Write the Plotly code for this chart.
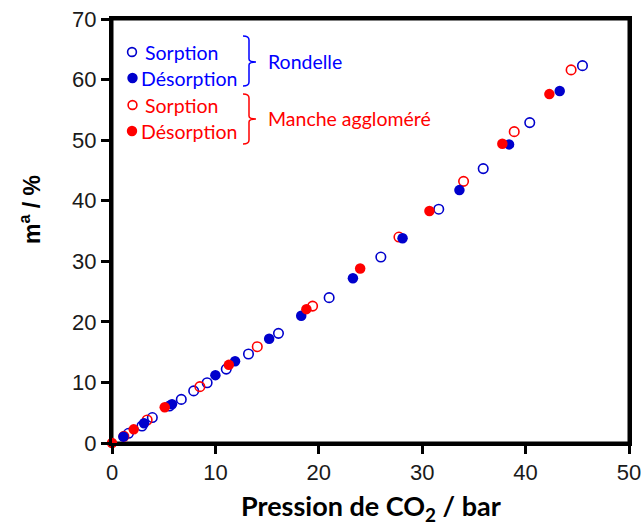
import plotly.graph_objects as go

# ---- data (CO2 pressure in bar, mass uptake in %) ----
rond_sorp_x = [1.6, 2.9, 3.9, 5.55, 6.7, 7.9, 9.2, 11.05, 13.2, 16.1, 21.0, 26.0, 31.6, 35.9, 40.4, 45.5]
rond_sorp_y = [1.6, 2.8, 4.2, 6.1, 7.2, 8.6, 9.95, 12.2, 14.7, 18.1, 24.0, 30.7, 38.6, 45.3, 52.9, 62.3]
rond_deso_x = [1.1, 3.1, 5.8, 10.0, 11.9, 15.2, 18.3, 23.3, 28.1, 33.6, 38.4, 43.3]
rond_deso_y = [1.05, 3.25, 6.4, 11.2, 13.5, 17.2, 21.0, 27.2, 33.8, 41.75, 49.3, 58.1]
man_sorp_x = [1.15, 3.4, 8.5, 14.05, 19.4, 27.75, 34.0, 38.9, 44.4]
man_sorp_y = [1.1, 3.8, 9.3, 15.9, 22.6, 34.0, 43.2, 51.4, 61.6]
man_deso_x = [0.0, 2.1, 5.1, 11.3, 18.8, 24.0, 30.7, 37.75, 42.3]
man_deso_y = [0.0, 2.25, 5.9, 12.9, 22.1, 28.8, 38.3, 49.4, 57.6]

x_ticks = [0, 10, 20, 30, 40, 50]
y_ticks = [0, 10, 20, 30, 40, 50, 60, 70]

BLUE_M = "#0000CC"
BLUE_T = "#0000FF"
RED = "#FF0000"

W, H = 642, 527
L, R, T, B = 112, 13, 19, 84
PW, PH = W - L - R, H - T - B


def px(X):
    return (X - L) / PW


def py(Y):
    return (H - B - Y) / PH


fig = go.Figure()
fig.add_trace(go.Scatter(x=rond_sorp_x, y=rond_sorp_y, mode="markers", cliponaxis=False,
                         marker=dict(symbol="circle-open", size=9.5, color=BLUE_M, line=dict(width=1.6))))
fig.add_trace(go.Scatter(x=man_sorp_x, y=man_sorp_y, mode="markers", cliponaxis=False,
                         marker=dict(symbol="circle-open", size=9.5, color=RED, line=dict(width=1.6))))
fig.add_trace(go.Scatter(x=rond_deso_x, y=rond_deso_y, mode="markers", cliponaxis=False,
                         marker=dict(symbol="circle", size=10.5, color=BLUE_M, line=dict(width=0))))
fig.add_trace(go.Scatter(x=man_deso_x, y=man_deso_y, mode="markers", cliponaxis=False,
                         marker=dict(symbol="circle", size=10.5, color=RED, line=dict(width=0))))

axis_common = dict(showgrid=False, zeroline=False, showline=True, linewidth=3, linecolor="black",
                   mirror=True, ticks="outside", ticklen=8, tickwidth=3, tickcolor="black",
                   automargin=False,
                   tickfont=dict(family="Liberation Sans, Arial", size=22, color="#1a1a1a"))

fig.update_xaxes(range=[0, 50], tickvals=x_ticks, **axis_common)
fig.update_yaxes(range=[0, 70], tickvals=y_ticks, **axis_common)

annotations = []
# axis titles
annotations.append(dict(xref="paper", yref="paper", x=px(371), y=py(528), xanchor="center", yanchor="bottom",
                        text="Pression de CO<sub>2</sub> / bar", showarrow=False,
                        font=dict(family="Lato", size=27, color="black", weight="bold")))
annotations.append(dict(xref="paper", yref="paper", x=px(30), y=py(210), xanchor="center", yanchor="middle",
                        text="m<sup>a</sup> / %", showarrow=False, textangle=-90,
                        font=dict(family="Liberation Sans, Arial", size=23, color="black", weight="bold")))

# legend texts
leg_font = "Lato"
LS = 19.5
legend_rows = [
    ("Sorption", 143, 52, BLUE_T),
    ("Désorption", 139, 78, BLUE_T),
    ("Sorption", 143, 105, RED),
    ("Désorption", 139, 131, RED),
]
for txt, X, Y, c in legend_rows:
    annotations.append(dict(xref="paper", yref="paper", x=px(X), y=py(Y), xanchor="left", yanchor="middle",
                            text=txt, showarrow=False, font=dict(family=leg_font, size=LS, color=c)))
annotations.append(dict(xref="paper", yref="paper", x=px(266), y=py(62), xanchor="left", yanchor="middle",
                        text="Rondelle", showarrow=False, font=dict(family=leg_font, size=LS, color=BLUE_T)))
annotations.append(dict(xref="paper", yref="paper", x=px(266), y=py(118), xanchor="left", yanchor="middle",
                        text="Manche aggloméré", showarrow=False, font=dict(family=leg_font, size=LS, color=RED)))

shapes = []
# plot frame
shapes.append(dict(type="rect", xref="paper", yref="paper", x0=0, x1=1, y0=0, y1=1,
                   line=dict(color="black", width=3), layer="below"))
# legend symbols
for (X, Y, c, filled) in [(132, 52, BLUE_M, False), (132.5, 78, BLUE_M, True),
                          (132.5, 105, RED, False), (132, 131, RED, True)]:
    r = 4.4 if not filled else 5.2
    shapes.append(dict(type="circle", xref="paper", yref="paper", xsizemode="pixel", ysizemode="pixel",
                       xanchor=px(X), yanchor=py(Y), x0=-r, x1=r, y0=-r, y1=r,
                       line=dict(color=c, width=1.6 if not filled else 0),
                       fillcolor=c if filled else "rgba(0,0,0,0)"))


def brace(x0, xv, xt, ytop, ymid, ybot):
    pts = [
        f"M {px(x0)},{py(ytop)}",
        f"Q {px(xv)},{py(ytop)} {px(xv)},{py(ytop + 4)}",
        f"L {px(xv)},{py(ymid - 3)}",
        f"Q {px(xv)},{py(ymid)} {px(xt)},{py(ymid)}",
        f"Q {px(xv)},{py(ymid)} {px(xv)},{py(ymid + 3)}",
        f"L {px(xv)},{py(ybot - 4)}",
        f"Q {px(xv)},{py(ybot)} {px(x0)},{py(ybot)}",
    ]
    return " ".join(pts)


shapes.append(dict(type="path", xref="paper", yref="paper", path=brace(243, 249, 256, 36, 62, 86),
                   line=dict(color=BLUE_T, width=1.5)))
shapes.append(dict(type="path", xref="paper", yref="paper", path=brace(243, 249, 256, 94, 119, 144),
                   line=dict(color=RED, width=1.5)))

fig.update_layout(width=W, height=H, margin=dict(l=L, r=R, t=T, b=B),
                  plot_bgcolor="white", paper_bgcolor="white", showlegend=False,
                  annotations=annotations, shapes=shapes)

fig.write_html("out.html", config={"displayModeBar": False},
               post_script="document.body.style.margin='0';document.body.style.padding='0';")
